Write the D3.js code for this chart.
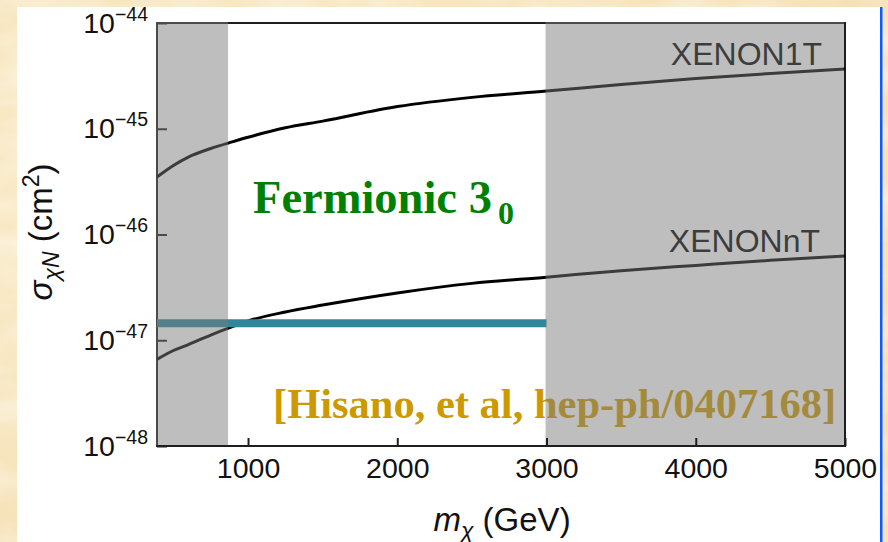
<!DOCTYPE html>
<html>
<head>
<meta charset="utf-8">
<script src="https://cdn.jsdelivr.net/npm/d3@7/dist/d3.min.js"></script>
<style>
  html, body { margin: 0; padding: 0; }
  body { width: 888px; height: 542px; overflow: hidden; }
  svg { display: block; }
</style>
</head>
<body>
<svg id="chart" width="888" height="542"></svg>
<script>
// Dark-matter mass (GeV) and spin-independent cross-section limits (cm^2)
const massXenon1T  = [390, 500, 600, 750, 900, 1000, 1250, 1500, 2000, 2500, 3000, 3500, 4000, 4500, 5000];
const sigmaXenon1T = [3.5e-46, 4.5e-46, 5.4e-46, 6.5e-46, 7.55e-46, 8.3e-46, 1.02e-45, 1.18e-45, 1.62e-45, 1.98e-45, 2.27e-45, 2.62e-45, 2.98e-45, 3.33e-45, 3.67e-45];

const massXenonNT  = [390, 500, 600, 750, 900, 1000, 1250, 1500, 2000, 2500, 3000, 3500, 4000, 4500, 5000];
const sigmaXenonNT = [6.6e-48, 8.0e-48, 9.1e-48, 1.12e-47, 1.35e-47, 1.52e-47, 1.85e-47, 2.15e-47, 2.8e-47, 3.45e-47, 3.95e-47, 4.55e-47, 5.1e-47, 5.7e-47, 6.25e-47];

// Fermionic 3_0 prediction: flat cross-section over its allowed mass window
const predictionMass  = [390, 3000];
const predictionSigma = 1.45e-47;

// Excluded mass windows (shaded)
const excludedLow  = [390, 866];
const excludedHigh = [3000, 5000];

const xTicks = [1000, 2000, 3000, 4000, 5000];
const yTicks = [1e-48, 1e-47, 1e-46, 1e-45, 1e-44];
const yTickExponents = ["\u221248", "\u221247", "\u221246", "\u221245", "\u221244"];

const svg = d3.select("#chart");
const sans = "'Liberation Sans', Arial, Helvetica, sans-serif";
const serif = "'Liberation Serif', 'Times New Roman', serif";

// --- page background: mottled parchment with a white slide panel ---
const defs = svg.append("defs");
const bg = defs.append("radialGradient").attr("id", "parch").attr("cx", "30%").attr("cy", "40%").attr("r", "80%");
bg.append("stop").attr("offset", "0%").attr("stop-color", "#fbeecf");
bg.append("stop").attr("offset", "100%").attr("stop-color", "#f4e0b4");
const mottle = defs.append("filter").attr("id", "mottle").attr("x", 0).attr("y", 0).attr("width", "100%").attr("height", "100%");
mottle.append("feTurbulence").attr("type", "fractalNoise").attr("baseFrequency", "0.012 0.03").attr("numOctaves", 3).attr("seed", 7);
mottle.append("feColorMatrix").attr("type", "matrix")
  .attr("values", "0 0 0 0 1  0 0 0 0 1  0 0 0 0 0.95  1.4 0 0 0 -0.55");
svg.append("rect").attr("width", 888).attr("height", 542).attr("fill", "url(#parch)");
svg.append("rect").attr("width", 888).attr("height", 542).attr("filter", "url(#mottle)").attr("opacity", 0.7);
svg.append("rect").attr("x", 17).attr("y", 7).attr("width", 863).attr("height", 535).attr("fill", "#ffffff");
svg.append("rect").attr("x", 880).attr("y", 7).attr("width", 2.5).attr("height", 535).attr("fill", "#0a5cff");

// --- scales ---
const plotLeft = 157, plotRight = 845, plotTop = 23, plotBottom = 446;
const x = d3.scaleLinear().domain([390, 5000]).range([plotLeft, plotRight]);
const y = d3.scaleLog().domain([1e-48, 1e-44]).range([plotBottom, plotTop]);

const plot = svg.append("g");

// frame
plot.append("rect")
  .attr("x", plotLeft).attr("y", plotTop)
  .attr("width", plotRight - plotLeft).attr("height", plotBottom - plotTop)
  .attr("fill", "none").attr("stroke", "#1e1e1e").attr("stroke-width", 2);

// left axis: inward ticks, custom power-of-ten labels
const yAxis = d3.axisLeft(y).tickValues(yTicks).tickSizeInner(-10).tickSizeOuter(0).tickFormat(() => "");
const gy = plot.append("g").attr("transform", `translate(${plotLeft},0)`).call(yAxis);
gy.select(".domain").remove();
gy.selectAll(".tick line").attr("stroke", "#1e1e1e").attr("stroke-width", 2);
gy.selectAll(".tick text").remove();
gy.selectAll(".tick").each(function(d, i) {
  const t = d3.select(this).append("text")
    .attr("x", -9).attr("y", 9)
    .attr("text-anchor", "end")
    .attr("fill", "#111")
    .style("font-family", sans);
  t.append("tspan").style("font-size", "28.5px").text("10");
  t.append("tspan").attr("dy", -12).style("font-size", "19.5px").text(yTickExponents[i]);
});

// curves
const line = d3.line().x(d => x(d[0])).y(d => y(d[1])).curve(d3.curveMonotoneX);
plot.append("path")
  .datum(d3.zip(massXenon1T, sigmaXenon1T))
  .attr("d", line).attr("fill", "none").attr("stroke", "#000").attr("stroke-width", 3);
plot.append("path")
  .datum(d3.zip(massXenonNT, sigmaXenonNT))
  .attr("d", line).attr("fill", "none").attr("stroke", "#000").attr("stroke-width", 3);

// curve labels
plot.append("text").attr("x", 822).attr("y", 65).attr("text-anchor", "end")
  .style("font-family", sans).style("font-size", "32px").attr("fill", "#000").text("XENON1T");
plot.append("text").attr("x", 820).attr("y", 252).attr("text-anchor", "end")
  .style("font-family", sans).style("font-size", "32px").attr("fill", "#000").text("XENONnT");

// prediction band
plot.append("line")
  .attr("x1", x(predictionMass[0])).attr("x2", x(predictionMass[1]))
  .attr("y1", y(predictionSigma)).attr("y2", y(predictionSigma))
  .attr("stroke", "#30869b").attr("stroke-width", 8);

// model label
const model = plot.append("text").attr("x", 253).attr("y", 213)
  .style("font-family", serif).style("font-weight", "bold").style("font-size", "46.5px")
  .attr("fill", "#008000");
model.append("tspan").text("Fermionic 3");
model.append("tspan").attr("dx", 6).attr("dy", 11).style("font-size", "32px").text("0");

// reference
plot.append("text").attr("x", 273).attr("y", 418)
  .style("font-family", serif).style("font-weight", "bold").style("font-size", "42.5px")
  .attr("fill", "#cc9900").text("[Hisano, et al, hep-ph/0407168]");

// shaded excluded windows, laid over everything beneath
[excludedLow, excludedHigh].forEach(r => {
  plot.append("rect")
    .attr("x", x(r[0]) - 1).attr("y", plotTop - 1)
    .attr("width", x(r[1]) - x(r[0]) + (r === excludedHigh ? 0 : 1))
    .attr("height", plotBottom - plotTop)
    .attr("fill", "rgb(122,122,122)").attr("fill-opacity", 0.49);
});

// bottom axis: inward ticks
const xAxis = d3.axisBottom(x).tickValues(xTicks).tickSizeInner(-8).tickSizeOuter(0).tickFormat(d3.format("d"));
const gx = plot.append("g").attr("transform", `translate(0,${plotBottom})`).call(xAxis);
gx.select(".domain").remove();
gx.selectAll(".tick line").attr("stroke", "#1e1e1e").attr("stroke-width", 2);
gx.selectAll(".tick text")
  .attr("y", 32).attr("dy", null)
  .attr("fill", "#111")
  .style("font-family", sans).style("font-size", "28.5px");

// axis titles
const xt = svg.append("text").attr("x", 502).attr("y", 531).attr("text-anchor", "middle")
  .style("font-family", sans).style("font-size", "33px").attr("fill", "#111");
xt.append("tspan").style("font-style", "italic").text("m");
xt.append("tspan").attr("dy", 7).style("font-style", "italic").style("font-size", "23px").text("\u03c7");
xt.append("tspan").attr("dy", -7).text(" (GeV)");

const yt = svg.append("text").attr("transform", "translate(52,232) rotate(-90)").attr("text-anchor", "middle")
  .style("font-family", sans).style("font-size", "33px").attr("fill", "#111");
yt.append("tspan").style("font-style", "italic").text("\u03c3");
yt.append("tspan").attr("dy", 7).style("font-style", "italic").style("font-size", "23px").text("\u03c7N");
yt.append("tspan").attr("dy", -7).text(" (cm");
yt.append("tspan").attr("dy", -13).style("font-size", "23px").text("2");
yt.append("tspan").attr("dy", 13).text(")");
</script>
</body>
</html>
